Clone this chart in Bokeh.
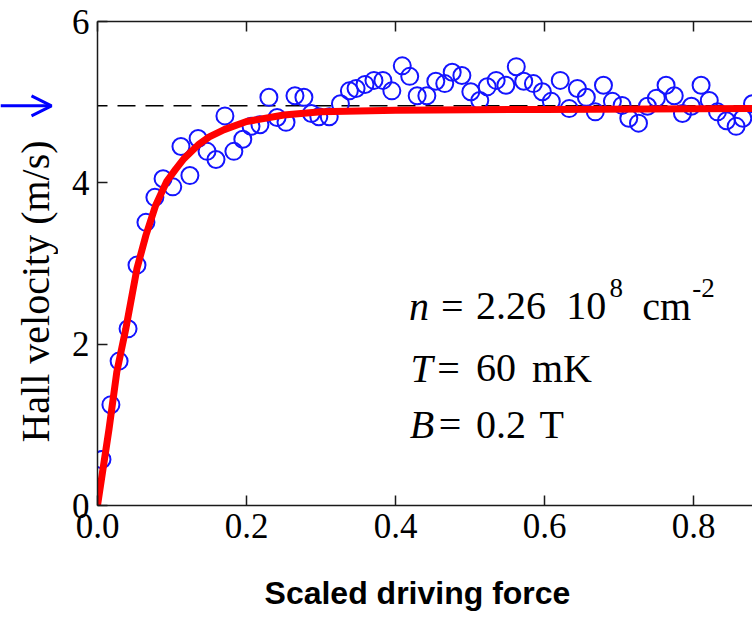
import math
from bokeh.plotting import figure
from bokeh.layouts import row, column
from bokeh.models import (Range1d, LinearAxis, Span, Label, Arrow, OpenHead,
                          FixedTicker, NumeralTickFormatter, CustomLabelingPolicy)
from bokeh.embed import file_html
from bokeh.resources import INLINE

# ---- data ----
force = [0.006, 0.018, 0.029, 0.041, 0.053, 0.065, 0.077, 0.088, 0.101, 0.112,
         0.124, 0.135, 0.147, 0.159, 0.171, 0.183, 0.195, 0.206, 0.218, 0.230,
         0.241, 0.253, 0.265, 0.277, 0.287, 0.297, 0.311, 0.326, 0.338, 0.347,
         0.359, 0.371, 0.383, 0.395, 0.409, 0.419, 0.429, 0.442, 0.454, 0.466,
         0.476, 0.489, 0.501, 0.513, 0.523, 0.535, 0.548, 0.562, 0.572, 0.585,
         0.597, 0.609, 0.621, 0.633, 0.644, 0.656, 0.668, 0.679, 0.691, 0.704,
         0.713, 0.726, 0.738, 0.750, 0.763, 0.774, 0.785, 0.797, 0.810, 0.821,
         0.832, 0.844, 0.857, 0.866, 0.879]
velocity = [0.57, 1.25, 1.79, 2.19, 2.98, 3.51, 3.82, 4.05, 3.95, 4.45,
            4.09, 4.55, 4.39, 4.29, 4.83, 4.39, 4.54, 4.70, 4.72, 5.06,
            4.81, 4.75, 5.08, 5.06, 4.86, 4.82, 4.82, 4.98, 5.14, 5.17,
            5.22, 5.27, 5.27, 5.14, 5.45, 5.32, 5.08, 5.08, 5.26, 5.23,
            5.37, 5.33, 5.13, 5.02, 5.19, 5.27, 5.21, 5.44, 5.26, 5.23,
            5.13, 5.01, 5.27, 4.92, 5.17, 5.06, 4.88, 5.21, 5.01, 4.96,
            4.80, 4.74, 4.95, 5.05, 5.21, 5.08, 4.86, 4.95, 5.21, 5.02,
            4.88, 4.77, 4.70, 4.80, 4.98]

fit_force = [0.0, 0.0155, 0.026, 0.038, 0.053, 0.065, 0.078, 0.093, 0.105,
             0.116, 0.135, 0.15, 0.17, 0.2, 0.25, 0.3, 0.4, 0.6, 0.88]
fit_velocity = [0.0, 0.95, 1.66, 2.19, 2.94, 3.35, 3.72, 4.02, 4.17,
                4.30, 4.47, 4.57, 4.66, 4.76, 4.84, 4.88, 4.90, 4.91, 4.92]

saturation = 4.955
x_ticks = [0.0, 0.2, 0.4, 0.6, 0.8]
y_ticks = [0, 2, 4, 6]
x_label = "Scaled driving force"
y_label = "Hall velocity (m/s)"

SERIF = "Liberation Serif"
TOP, FRAME_H, BOTTOM = 21, 484, 60
ROW_H = TOP + FRAME_H + BOTTOM

y_range = Range1d(0, 6)


def bare(fig):
    fig.outline_line_color = None
    fig.background_fill_color = "white"
    fig.border_fill_color = "white"
    fig.xgrid.visible = False
    fig.ygrid.visible = False


# ---------- left strip: y title and blue arrow ----------
left = figure(width=58, height=ROW_H, output_backend="svg", toolbar_location=None,
              x_range=Range1d(0, 58), y_range=y_range,
              x_axis_location=None, y_axis_location=None,
              min_border_left=0, min_border_right=0,
              min_border_top=TOP, min_border_bottom=BOTTOM)
bare(left)
left.add_layout(Label(x=35, y=2.653, text=y_label, angle=math.pi / 2,
                      text_font=SERIF, text_font_size="40px", text_color="black",
                      text_align="center", text_baseline="alphabetic"))
left.add_layout(Arrow(end=OpenHead(size=20, line_color="#0000ff", line_width=3),
                      x_start=0, y_start=saturation, x_end=51, y_end=saturation,
                      line_color="#0000ff", line_width=3))

# ---------- main plot ----------
p = figure(width=694, height=ROW_H, output_backend="svg", toolbar_location=None,
           x_range=Range1d(0, 0.879), y_range=y_range,
           min_border_left=39, min_border_right=0, min_border_top=TOP,
           min_border_bottom=BOTTOM)
bare(p)


def style_axis(ax, ticks):
    ax.ticker = FixedTicker(ticks=ticks)
    ax.major_tick_in = 10
    ax.major_tick_out = 0
    ax.minor_tick_line_color = None
    ax.axis_line_color = "#1a1a1a"
    ax.axis_line_width = 1.5
    ax.major_tick_line_color = "#1a1a1a"
    ax.major_tick_line_width = 1.5
    ax.major_label_text_font = SERIF
    ax.major_label_text_font_size = "35px"
    ax.major_label_text_color = "black"


xa = p.xaxis[0]
style_axis(xa, x_ticks)
xa.formatter = NumeralTickFormatter(format="0.0")
xa.major_label_standoff = 8

ya = p.yaxis[0]
style_axis(ya, y_ticks)
ya.major_label_standoff = 8

top = LinearAxis()
style_axis(top, x_ticks)
top.major_label_text_font_size = "1px"
top.major_label_standoff = 0
top.major_label_policy = CustomLabelingPolicy(code="""
const all = [];
for (const i of indices) all.push(i);
for (const i of all) indices.unset(i);
return indices;
""")
p.add_layout(top, "above")

# dashed saturation line
p.add_layout(Span(location=saturation, dimension="width", line_color="black",
                  line_width=1.5, line_dash="18 10", line_dash_offset=8,
                  level="underlay"))

# data circles
p.scatter(force, velocity, marker="circle", size=17, fill_color=None,
          line_color="#1414ff", line_width=2)

# fit curve
p.line(fit_force, fit_velocity, line_color="#ff0000", line_width=7,
       line_join="round", line_cap="round")

# annotation text: (text, x, y, size, style)
notes = [
    ("n", 0.418, 2.467, "40px", "italic"),
    ("=", 0.461, 2.467, "40px", "normal"),
    ("2.26", 0.508, 2.467, "40px", "normal"),
    ("10", 0.629, 2.467, "40px", "normal"),
    ("8", 0.687, 2.70, "27px", "normal"),
    ("cm", 0.731, 2.467, "40px", "normal"),
    ("-2", 0.798, 2.70, "27px", "normal"),
    ("T", 0.420, 1.699, "40px", "italic"),
    ("=", 0.456, 1.699, "40px", "normal"),
    ("60", 0.508, 1.699, "40px", "normal"),
    ("mK", 0.583, 1.699, "40px", "normal"),
    ("B", 0.419, 1.004, "40px", "italic"),
    ("=", 0.458, 1.004, "40px", "normal"),
    ("0.2", 0.508, 1.004, "40px", "normal"),
    ("T", 0.593, 1.004, "40px", "normal"),
]
for txt, x, y, sz, st in notes:
    p.add_layout(Label(x=x, y=y, text=txt, text_font=SERIF, text_font_size=sz,
                       text_font_style=st, text_color="black",
                       text_align="left", text_baseline="alphabetic"))

# ---------- bottom strip: x title ----------
bottom = figure(width=752, height=49, output_backend="svg", toolbar_location=None,
                x_range=Range1d(-0.1302, 0.879), y_range=Range1d(0, 49),
                x_axis_location=None, y_axis_location=None,
                min_border_left=0, min_border_right=0,
                min_border_top=0, min_border_bottom=0)
bare(bottom)
bottom.add_layout(Label(x=0.4294, y=22, text=x_label, text_font="Liberation Sans",
                        text_font_style="bold", text_font_size="32px",
                        text_color="black", text_align="center",
                        text_baseline="alphabetic"))

layout = column(row(left, p, spacing=0), bottom, spacing=0)

open("out.html", "w").write(file_html(layout, INLINE))
